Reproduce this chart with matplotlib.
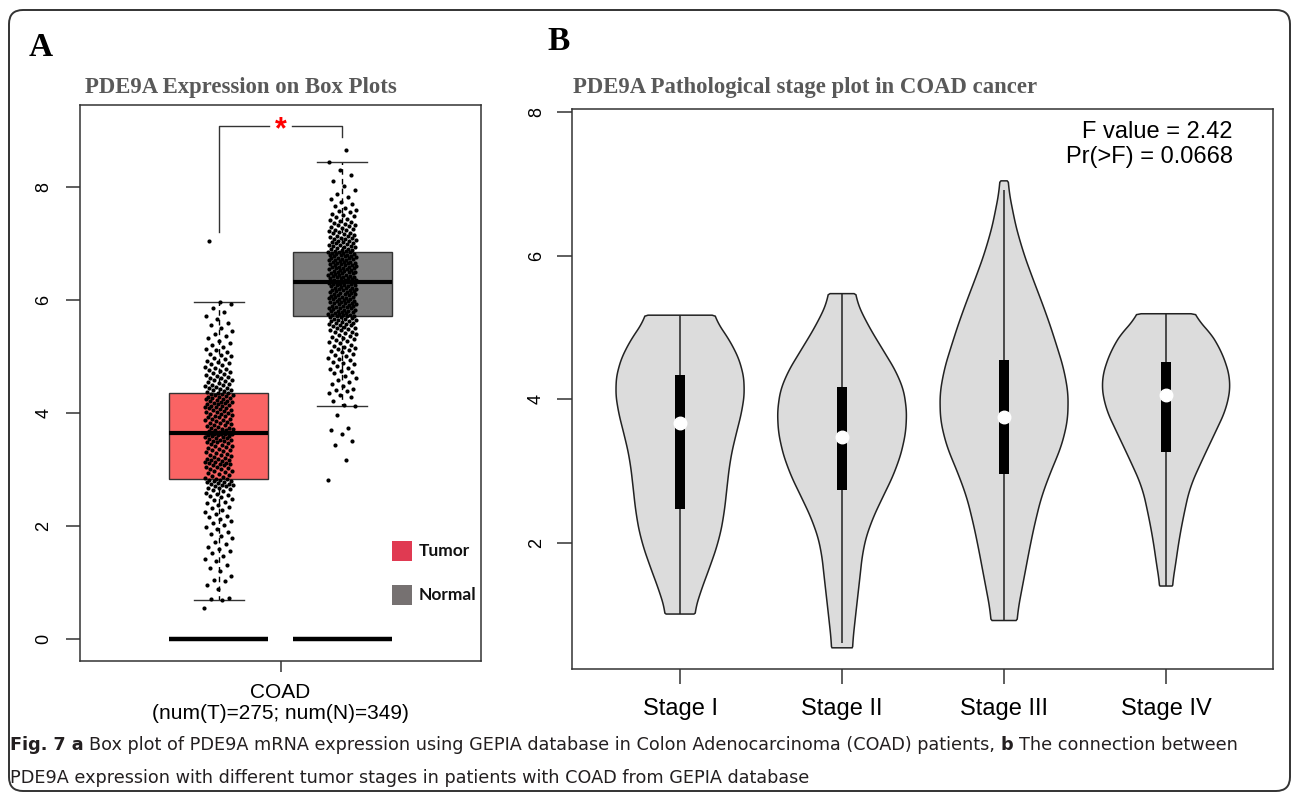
import matplotlib
matplotlib.use('Agg')
import matplotlib.pyplot as plt
from matplotlib.patches import FancyBboxPatch, Rectangle
from matplotlib.transforms import IdentityTransform
import numpy as np

plt.rcParams['font.family'] = ['Liberation Sans', 'DejaVu Sans']

# ---------------- data: panel A (box plot) ----------------
box_groups = ['Tumor', 'Normal']
box_med = [3.65, 6.32]
box_q1 = [2.83, 5.72]
box_q3 = [4.35, 6.85]
box_lo = [0.69, 4.12]
box_hi = [5.96, 8.44]
num_label = 'COAD\n(num(T)=275; num(N)=349)'

tumor_vals = [
    0.55, 0.69, 0.70, 0.72, 0.88, 0.95, 1.02, 1.05, 1.12, 1.20, 1.25, 1.31, 1.38, 1.42,
    1.47, 1.52, 1.55, 1.60, 1.63, 1.68, 1.72, 1.78, 1.83, 1.86, 1.90, 1.95, 1.98, 2.02,
    2.05, 2.08, 2.12, 2.15, 2.18, 2.22, 2.25, 2.28, 2.31, 2.34, 2.37, 2.40, 2.43, 2.46,
    2.48, 2.51, 2.53, 2.55, 2.57, 2.59, 2.61, 2.63, 2.65, 2.67, 2.68, 2.70, 2.71, 2.72,
    2.73, 2.74, 2.75, 2.76, 2.77, 2.78, 2.79, 2.80, 2.81, 2.82, 2.83, 2.83, 2.84,
    2.86, 2.88, 2.90, 2.92, 2.94, 2.95, 2.97, 2.98, 3.00, 3.01, 3.03, 3.04, 3.05, 3.07,
    3.08, 3.09, 3.10, 3.11, 3.12, 3.13, 3.14, 3.15, 3.16, 3.17, 3.18, 3.19, 3.20, 3.22,
    3.23, 3.25, 3.26, 3.28, 3.29, 3.31, 3.32, 3.34, 3.35, 3.37, 3.38, 3.40, 3.41, 3.42,
    3.44, 3.45, 3.46, 3.48, 3.49, 3.50, 3.51, 3.52, 3.53, 3.54, 3.55, 3.56, 3.57, 3.58,
    3.59, 3.60, 3.61, 3.61, 3.62, 3.62, 3.63, 3.63, 3.64, 3.64, 3.65, 3.65,
    3.66, 3.66, 3.67, 3.67, 3.68, 3.69, 3.70, 3.71, 3.72, 3.73, 3.74, 3.75, 3.77, 3.78,
    3.79, 3.80, 3.82, 3.83, 3.84, 3.85, 3.87, 3.88, 3.89, 3.90, 3.92, 3.93, 3.94, 3.95,
    3.96, 3.98, 3.99, 4.00, 4.01, 4.02, 4.03, 4.05, 4.06, 4.07, 4.08, 4.09, 4.10, 4.11,
    4.12, 4.13, 4.14, 4.15, 4.16, 4.17, 4.18, 4.19, 4.20, 4.21, 4.22, 4.23, 4.24, 4.25,
    4.26, 4.27, 4.28, 4.29, 4.30, 4.31, 4.32, 4.33, 4.34, 4.35, 4.35,
    4.37, 4.38, 4.40, 4.41, 4.42, 4.44, 4.45, 4.46, 4.48, 4.49, 4.50, 4.52, 4.53, 4.55,
    4.56, 4.58, 4.59, 4.61, 4.62, 4.64, 4.65, 4.67, 4.69, 4.70, 4.72, 4.74, 4.76, 4.78,
    4.80, 4.82, 4.84, 4.86, 4.88, 4.90, 4.92, 4.95, 4.97, 5.00, 5.02, 5.05, 5.08, 5.11,
    5.14, 5.17, 5.20, 5.24, 5.28, 5.32, 5.36, 5.40, 5.45, 5.50, 5.55, 5.60, 5.66, 5.72,
    5.78, 5.85, 5.92, 5.96, 7.05,
]

normal_vals = [
    2.81, 3.17, 3.43, 3.50, 3.63, 3.69, 3.73, 3.96,
    4.12, 4.14, 4.22, 4.28, 4.31, 4.35, 4.38, 4.40, 4.43, 4.47, 4.52, 4.55, 4.58, 4.62,
    4.66, 4.70, 4.72, 4.75, 4.78, 4.80, 4.83, 4.86, 4.88, 4.91, 4.93, 4.96, 4.98, 5.00,
    5.02, 5.05, 5.07, 5.09, 5.11, 5.13, 5.15, 5.17, 5.19, 5.21, 5.23, 5.25, 5.27, 5.29,
    5.31, 5.33, 5.35, 5.36, 5.38, 5.40, 5.41, 5.43, 5.44, 5.46, 5.47, 5.49, 5.50, 5.51,
    5.52, 5.54, 5.55, 5.56, 5.57, 5.58, 5.59, 5.60, 5.61, 5.62, 5.63, 5.64, 5.65, 5.66,
    5.67, 5.68, 5.69, 5.70, 5.71, 5.72, 5.72,
    5.73, 5.74, 5.74, 5.75, 5.76, 5.77, 5.77, 5.78, 5.79, 5.80, 5.81, 5.81, 5.82, 5.83,
    5.84, 5.85, 5.85, 5.86, 5.87, 5.88, 5.89, 5.90, 5.90, 5.91, 5.92, 5.93, 5.94, 5.94,
    5.95, 5.96, 5.97, 5.98, 5.98, 5.99, 6.00, 6.01, 6.02, 6.02, 6.03, 6.04, 6.05, 6.06,
    6.06, 6.07, 6.08, 6.09, 6.10, 6.10, 6.11, 6.12, 6.13, 6.14, 6.14, 6.15, 6.16, 6.17,
    6.18, 6.18, 6.19, 6.20, 6.21, 6.22, 6.22, 6.23, 6.24, 6.25, 6.26, 6.26, 6.27, 6.28,
    6.29, 6.29, 6.30, 6.31, 6.31, 6.32, 6.32,
    6.33, 6.33, 6.34, 6.35, 6.35, 6.36, 6.37, 6.38, 6.38, 6.39, 6.40, 6.41, 6.41, 6.42,
    6.43, 6.44, 6.44, 6.45, 6.46, 6.47, 6.47, 6.48, 6.49, 6.50, 6.50, 6.51, 6.52, 6.53,
    6.53, 6.54, 6.55, 6.56, 6.56, 6.57, 6.58, 6.59, 6.59, 6.60, 6.61, 6.62, 6.62, 6.63,
    6.64, 6.65, 6.65, 6.66, 6.67, 6.68, 6.68, 6.69, 6.70, 6.71, 6.71, 6.72, 6.73, 6.74,
    6.74, 6.75, 6.76, 6.77, 6.77, 6.78, 6.79, 6.80, 6.80, 6.81, 6.82, 6.83, 6.83, 6.84,
    6.85, 6.85,
    6.86, 6.87, 6.88, 6.89, 6.90, 6.91, 6.92, 6.93, 6.94, 6.95, 6.96, 6.97, 6.98, 6.99,
    7.00, 7.01, 7.02, 7.03, 7.04, 7.05, 7.06, 7.07, 7.08, 7.09, 7.10, 7.12, 7.13, 7.14,
    7.15, 7.17, 7.18, 7.19, 7.20, 7.22, 7.23, 7.24, 7.26, 7.27, 7.29, 7.30, 7.32, 7.33,
    7.35, 7.37, 7.38, 7.40, 7.42, 7.44, 7.46, 7.48, 7.50, 7.52, 7.55, 7.57, 7.60, 7.63,
    7.66, 7.70, 7.74, 7.78, 7.83, 7.88, 7.95, 8.02, 8.10, 8.22, 8.30, 8.44, 8.65,
]

# ---------------- data: panel B (violin plot) ----------------
stages = ['Stage I', 'Stage II', 'Stage III', 'Stage IV']
stage_med = [3.67, 3.48, 3.75, 4.06]
stage_q1 = [2.47, 2.74, 2.96, 3.27]
stage_q3 = [4.34, 4.17, 4.55, 4.52]
stage_wlo = [1.01, 0.61, 0.91, 1.40]
stage_whi = [5.17, 5.47, 6.91, 5.19]

# violin outlines: level -> half width (x units)
v1_lev = [5.17, 4.92, 4.69, 4.45, 4.18, 3.90, 3.67, 3.40, 3.15, 2.78, 2.40, 2.04, 1.67, 1.30, 1.01]
v1_hw = [.198, .278, .340, .383, .401, .389, .364, .333, .309, .290, .272, .241, .185, .123, .086]
v2_lev = [5.47, 5.38, 5.10, 4.82, 4.55, 4.27, 3.99, 3.67, 3.39, 3.06, 2.78, 2.51, 2.22, 1.94, 1.66,
          1.30, 0.92, 0.54]
v2_hw = [.074, .086, .142, .216, .290, .364, .395, .401, .383, .340, .284, .222, .167, .130, .117,
         .099, .080, .062]
v3_lev = [7.04, 6.91, 6.64, 6.17, 5.70, 5.24, 4.78, 4.27, 3.89, 3.53, 3.15, 2.78, 2.41, 2.04, 1.66,
          1.30, 0.92]
v3_hw = [.019, .031, .049, .099, .173, .253, .321, .389, .401, .383, .321, .247, .204, .167, .136,
         .105, .074]
v4_lev = [5.19, 5.01, 4.69, 4.27, 3.89, 3.53, 3.15, 2.78, 2.41, 2.04, 1.66, 1.40]
v4_hw = [.154, .247, .340, .401, .377, .302, .222, .148, .111, .080, .056, .037]

f_text = 'F value = 2.42\nPr(>F) = 0.0668'

W, H = 1293, 797
fig = plt.figure(figsize=(W / 100, H / 100), dpi=100)


def fx(x):
    return x / W


def fy(y):
    return 1 - y / H


# outer rounded frame
fig.patches.append(FancyBboxPatch((9, 6), 1281, 781, boxstyle='round,pad=0,rounding_size=14',
                                  transform=IdentityTransform(), fill=False,
                                  edgecolor='#333333', lw=1.4))

axis_col = '#333333'

##################################
#        Panel A: box plot       #
##################################
axA = fig.add_axes([fx(80), fy(661), 401 / W, 556 / H])
posA = [0.815, 1.185]
bw = 0.296
stats = []
for i in range(2):
    stats.append(dict(med=box_med[i], q1=box_q1[i], q3=box_q3[i],
                      whislo=box_lo[i], whishi=box_hi[i], fliers=[], label=box_groups[i]))
bp = axA.bxp(stats, positions=posA, widths=bw, capwidths=0.15, patch_artist=True,
             showfliers=False, manage_ticks=False,
             boxprops=dict(edgecolor='#333333', linewidth=1.0),
             whiskerprops=dict(linestyle=(0, (4, 3)), linewidth=1.0, color='black'),
             capprops=dict(linewidth=1.0, color='#333333'),
             medianprops=dict(linewidth=3.0, color='black'))
for patch, col in zip(bp['boxes'], ['#FA6464', '#808080']):
    patch.set_facecolor(col)

for vals, p in zip([tumor_vals, normal_vals], posA):
    k = np.arange(len(vals))
    xj = p + ((k * 0.618034) % 1.0 - 0.5) * 0.085
    axA.scatter(xj, vals, s=9, color='black', linewidths=0, zorder=4)

# zero bars under each group
for p in posA:
    axA.hlines(0, p - bw / 2, p + bw / 2, color='black', lw=3.2, zorder=3)

# significance bracket
axA.plot([posA[0], posA[0], 0.966], [7.2, 9.08, 9.08], color='#333333', lw=1.0)
axA.plot([1.035, posA[1], posA[1]], [9.08, 9.08, 8.88], color='#333333', lw=1.0)
axA.text(1.0, 8.86, '*', color='red', fontsize=22, fontweight='bold', ha='center', va='baseline')

axA.set_xlim(0.4, 1.6)
axA.set_ylim(-0.39, 9.45)
axA.set_yticks([0, 2, 4, 6, 8])
axA.set_xticks([1])
axA.set_xticklabels([num_label], fontsize=15, linespacing=1.1)
axA.tick_params(axis='y', length=10, width=1.1, pad=10, labelsize=13, labelrotation=90,
                color=axis_col)
axA.tick_params(axis='x', length=8, width=1.1, pad=8, color=axis_col)
for lbl in axA.get_yticklabels():
    lbl.set_va('center')
for sp in axA.spines.values():
    sp.set_linewidth(1.1)
    sp.set_color(axis_col)

# legend squares
for yc, col, name in [(551, '#E03A52', 'Tumor'), (594.5, '#767171', 'Normal')]:
    fig.patches.append(Rectangle((fx(392), fy(yc + 10)), 20 / W, 20 / H,
                                 transform=fig.transFigure, facecolor=col, edgecolor='none'))
    fig.text(fx(419), fy(yc), name, fontsize=12.5, fontweight='bold', va='center',
             family=['Lato', 'DejaVu Sans'], color='#111111')

##################################
#      Panel B: violin plot      #
##################################
axB = fig.add_axes([fx(572), fy(669), 701 / W, 560 / H])


def smooth_outline(lev, hw):
    lev = np.asarray(lev)[::-1]
    hw = np.asarray(hw)[::-1]
    yy = np.linspace(lev[0], lev[-1], 300)
    ww = np.interp(yy, lev, hw)
    k = 15
    pad = np.concatenate([np.full(k, ww[0]), ww, np.full(k, ww[-1])])
    ww = np.convolve(pad, np.ones(2 * k + 1) / (2 * k + 1), mode='same')[k:-k]
    ww[0], ww[-1] = hw[0], hw[-1]
    return yy, ww


outlines = [(v1_lev, v1_hw), (v2_lev, v2_hw), (v3_lev, v3_hw), (v4_lev, v4_hw)]
for i, (lev, hw) in enumerate(outlines):
    c = i + 1
    yy, ww = smooth_outline(lev, hw)
    xs = np.concatenate([c + ww, (c - ww)[::-1], [c + ww[0]]])
    ys = np.concatenate([yy, yy[::-1], [yy[0]]])
    axB.fill(xs, ys, facecolor='#DCDCDC', edgecolor='#222222', lw=1.1, zorder=2)
    axB.vlines(c, stage_wlo[i], stage_whi[i], color='#222222', lw=1.1, zorder=3)
    axB.vlines(c, stage_q1[i], stage_q3[i], color='black', lw=7.2, zorder=4)
    axB.plot([c], [stage_med[i]], 'o', color='white', markersize=9, mec='white', zorder=5)

fig.text(fx(1233), fy(121), f_text, ha='right', va='top', fontsize=17, linespacing=1.2)

axB.set_xlim(0.333, 4.66)
axB.set_ylim(0.245, 8.04)
axB.set_yticks([2, 4, 6, 8])
axB.set_xticks([1, 2, 3, 4])
axB.set_xticklabels(stages, fontsize=17)
axB.tick_params(axis='y', length=11, width=1.1, pad=8.5, labelsize=13, labelrotation=90,
                color=axis_col)
axB.tick_params(axis='x', length=11, width=1.1, pad=10, color=axis_col)
for lbl in axB.get_yticklabels():
    lbl.set_va('center')
for sp in axB.spines.values():
    sp.set_linewidth(1.1)
    sp.set_color(axis_col)

# titles and panel letters
title_kw = dict(fontsize=16.4, fontweight='bold', family=['Liberation Serif', 'DejaVu Serif'],
                color='#595959', va='center', ha='left')
fig.text(fx(85), fy(88), 'PDE9A Expression on Box Plots', **title_kw)
fig.text(fx(573), fy(88), 'PDE9A Pathological stage plot in COAD cancer', **title_kw)
letter_kw = dict(fontsize=24, fontweight='bold', family=['Liberation Serif', 'DejaVu Serif'],
                 color='black', va='center', ha='left')
fig.text(fx(29), fy(48), 'A', **letter_kw)
fig.text(fx(547), fy(41), 'B', **letter_kw)

# caption, written piece by piece so some words can be bold
cap_font = ['Liberation Sans Narrow', 'DejaVu Sans']
cap_size = 12.7
cap_col = '#231F20'
renderer = fig.canvas.get_renderer()


def width_px(s, weight):
    t = fig.text(0, 0, s, fontsize=cap_size, family=cap_font, fontweight=weight)
    w = t.get_window_extent(renderer).width
    t.remove()
    return w


space_w = width_px('x x', 'normal') - width_px('xx', 'normal')
line1 = [('Fig. 7 a', 'bold'),
         ('Box plot of PDE9A mRNA expression using GEPIA database in Colon Adenocarcinoma (COAD) patients,',
          'normal'),
         ('b', 'bold'),
         ('The connection between', 'normal')]
x = 10
for s, wgt in line1:
    t = fig.text(fx(x), fy(745), s, fontsize=cap_size, family=cap_font, fontweight=wgt,
                 color=cap_col, va='center', ha='left')
    x += t.get_window_extent(renderer).width + space_w
fig.text(fx(10), fy(778), 'PDE9A expression with different tumor stages in patients with COAD from GEPIA database',
         fontsize=cap_size, family=cap_font, color=cap_col, va='center', ha='left')

fig.savefig('out.png', dpi=100)
